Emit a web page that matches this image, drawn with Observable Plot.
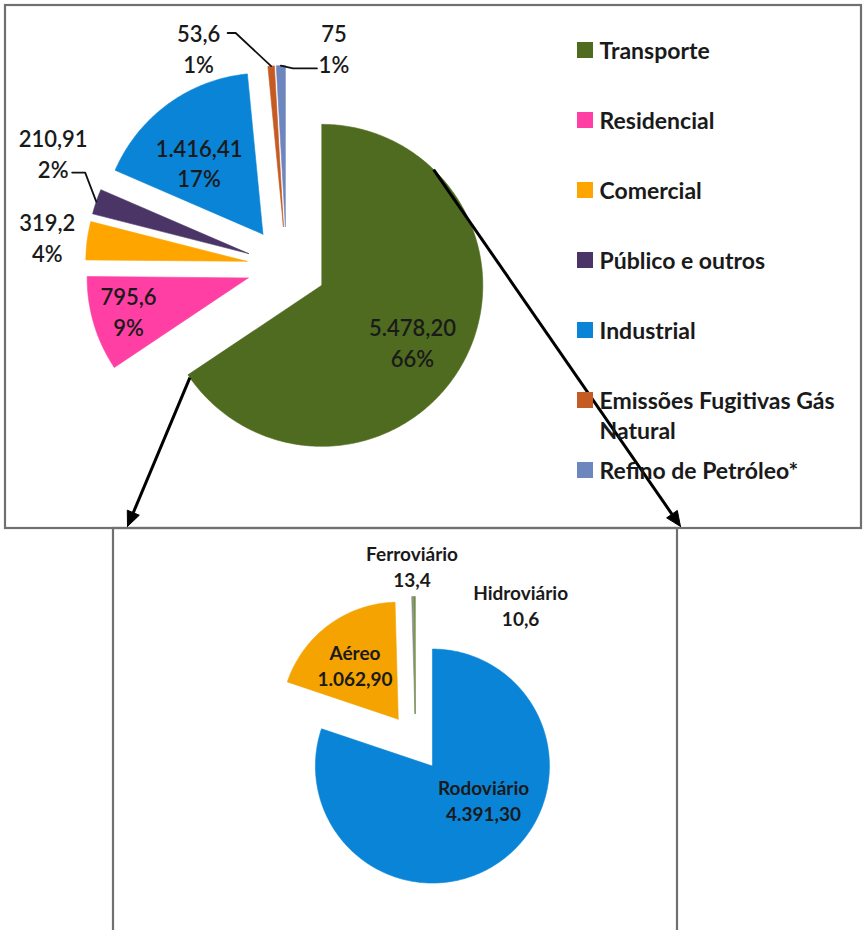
<!DOCTYPE html>
<html>
<head>
<meta charset="utf-8">
<script src="https://cdn.jsdelivr.net/npm/d3@7"></script>
<script src="https://cdn.jsdelivr.net/npm/@observablehq/plot@0.6"></script>
<style>
  html, body { margin: 0; padding: 0; background: #fff; }
  #chart svg { display: block; }
</style>
</head>
<body>
<div id="chart"></div>
<script>
// ---------------- DATA ----------------
const sectors = ["Transporte", "Residencial", "Comercial", "Público e outros", "Industrial", "Emissões Fugitivas Gás Natural", "Refino de Petróleo*"];
const sectorValues = [5478.20, 795.6, 319.2, 210.91, 1416.41, 53.6, 75];
const sectorValueLabels = ["5.478,20", "795,6", "319,2", "210,91", "1.416,41", "53,6", "75"];
const sectorPercentLabels = ["66%", "9%", "4%", "2%", "17%", "1%", "1%"];
const sectorColors = ["#4f6b1f", "#ff3fa3", "#ffa500", "#4a3566", "#0a84d6", "#c55a22", "#6e86be"];

const modes = ["Rodoviário", "Aéreo", "Ferroviário", "Hidroviário"];
const modeValues = [4391.30, 1062.90, 13.4, 10.6];
const modeValueLabels = ["4.391,30", "1.062,90", "13,4", "10,6"];
const modeColors = ["#0a84d6", "#f5a300", "#8a8a8a", "#6b8e3a"];

// ---------------- LAYOUT / STYLE ----------------
const W = 864, H = 930;
const layout = {
  topPie: {cx: 286, cy: 266, r: 161, explode: 40},
  botPie: {cx: 415, cy: 742, r: 117, explode: 29},
  topBox: {x1: 5, y1: 5, x2: 861, y2: 528},
  botBox: {x1: 113, y1: 528, x2: 677, y2: 960},
  legend: {x: 577, y0: 50, step: 70, size: 16, gap: 6, fontSize: 23},
  boxStroke: "#707070",
  textColor: "#1a1a1a"
};
const sectorLabelStyle = [
  {rf: 0.66, dx: -3, dy: 6},
  {rf: 0.75, dx: -4, dy: -2},
  {rf: 1.2, dx: -8, dy: 0},
  {rf: 1.25, dx: -5, dy: -36, leader: {sx: 19, sy: 20, elbow: 13}},
  {rf: 0.6, dx: -7, dy: 6},
  {rf: 1.2, dx: -70, dy: 14, leader: {sx: 29, sy: -15, elbow: 8}},
  {rf: 1.2, dx: 54, dy: 14, leader: {sx: -17, sy: 21, elbow: -24}}
];
const modeLabelStyle = [
  {rf: 0.5, dx: 17, dy: -14},
  {rf: 0.55, dx: -5, dy: -3},
  {rf: 1.25, dx: 0, dy: -2},
  {rf: 1.0, dx: 106, dy: 8}
];
const arrowStyle = [
  {angle: 44, toX: layout.botBox.x2 + 3, toY: layout.botBox.y1 - 2},
  {angle: 235, toX: layout.botBox.x1 + 14, toY: layout.botBox.y1 - 2}
];

// ---------------- GEOMETRY ----------------
function wedgeGeometry(values, g) {
  const arcs = d3.pie().sort(null).value(d => d)(values);
  return arcs.map((a, i) => {
    const mid = (a.startAngle + a.endAngle) / 2;
    const ox = g.cx + g.explode * Math.sin(mid);
    const oy = g.cy - g.explode * Math.cos(mid);
    const n = Math.max(2, Math.ceil((a.endAngle - a.startAngle) / 0.01));
    const pts = [[ox, oy]];
    for (let k = 0; k <= n; k++) {
      const t = a.startAngle + (a.endAngle - a.startAngle) * k / n;
      pts.push([ox + g.r * Math.sin(t), oy - g.r * Math.cos(t)]);
    }
    pts.push([ox, oy]);
    return {i, mid, ox, oy, r: g.r, pts};
  });
}
const at = (w, rf, ang = w.mid) => [w.ox + rf * w.r * Math.sin(ang), w.oy - rf * w.r * Math.cos(ang)];

const topW = wedgeGeometry(sectorValues, layout.topPie);
const botW = wedgeGeometry(modeValues, layout.botPie);

const marks = [];

// boxes
marks.push(Plot.rect([layout.topBox, layout.botBox], {
  x1: "x1", y1: "y1", x2: "x2", y2: "y2", fill: "none", stroke: layout.boxStroke, strokeWidth: 2.2
}));

// wedges
topW.forEach((w, i) => marks.push(Plot.line(w.pts, {
  x: p => p[0], y: p => p[1], fill: sectorColors[i], stroke: sectorColors[i], strokeWidth: 0.6, curve: "linear"
})));
botW.forEach((w, i) => marks.push(Plot.line(w.pts, {
  x: p => p[0], y: p => p[1], fill: modeColors[i], stroke: modeColors[i], strokeWidth: 0.6, curve: "linear"
})));

// top pie labels
const topLabels = topW.map((w, i) => {
  const s = sectorLabelStyle[i];
  const [bx, by] = at(w, s.rf);
  return {x: bx + s.dx, y: by + s.dy, text: sectorValueLabels[i] + "\n" + sectorPercentLabels[i], w, s};
});
marks.push(Plot.text(topLabels, {
  x: "x", y: "y", text: "text", fontSize: 22, lineHeight: 1.4, fill: layout.textColor, fontWeight: 600
}));

// leader lines
topLabels.filter(d => d.s.leader).forEach(d => {
  const L = d.s.leader;
  const start = [d.x + L.sx, d.y + L.sy];
  const elbow = [start[0] + L.elbow, start[1]];
  const end = at(d.w, 1);
  marks.push(Plot.line([start, elbow, end], {x: p => p[0], y: p => p[1], stroke: "#111", strokeWidth: 1.8}));
});

// bottom pie labels
const botLabels = botW.map((w, i) => {
  const s = modeLabelStyle[i];
  const [bx, by] = at(w, s.rf);
  return {x: bx + s.dx, y: by + s.dy, text: modes[i] + "\n" + modeValueLabels[i]};
});
marks.push(Plot.text(botLabels, {
  x: "x", y: "y", text: "text", fontSize: 19, lineHeight: 1.4, fill: layout.textColor, fontWeight: "bold"
}));

// arrows from Transporte to the detail pie
const tw = topW[0];
arrowStyle.forEach(a => {
  const [x1, y1] = at(tw, 1, a.angle * Math.PI / 180);
  const x2 = a.toX, y2 = a.toY;
  const len = Math.hypot(x2 - x1, y2 - y1);
  const ux = (x2 - x1) / len, uy = (y2 - y1) / len;
  const hl = 15, hw = 6.5;
  const bx = x2 - ux * hl, by = y2 - uy * hl;
  marks.push(Plot.link([{x1, y1, x2: bx + ux * 2, y2: by + uy * 2}], {x1: "x1", y1: "y1", x2: "x2", y2: "y2", stroke: "#000", strokeWidth: 3}));
  marks.push(Plot.line([[x2, y2], [bx - uy * hw, by + ux * hw], [bx + uy * hw, by - ux * hw], [x2, y2]], {
    x: p => p[0], y: p => p[1], fill: "#000", stroke: "#000", strokeWidth: 1
  }));
});

// legend
const lg = layout.legend;
const legendItems = sectors.map((name, i) => ({
  name: name.replace("Gás Natural", "Gás\nNatural"),
  color: sectorColors[i],
  cy: lg.y0 + i * lg.step
}));
marks.push(Plot.rect(legendItems, {
  x1: lg.x, x2: lg.x + lg.size, y1: d => d.cy - lg.size / 2, y2: d => d.cy + lg.size / 2, fill: "color"
}));
marks.push(Plot.text(legendItems, {
  x: lg.x + lg.size + lg.gap, y: d => d.cy - lg.fontSize * 0.58, text: "name", textAnchor: "start",
  lineAnchor: "top", lineHeight: 1.32, fontSize: lg.fontSize, fontWeight: "bold", fill: layout.textColor
}));

const chart = Plot.plot({
  width: W, height: H, margin: 0,
  x: {domain: [0, W], range: [0, W], axis: null},
  y: {domain: [0, H], range: [0, H], axis: null},
  color: {type: "identity"},
  style: {fontFamily: "Lato, 'Open Sans', sans-serif", background: "#fff", overflow: "hidden"},
  marks
});
document.getElementById("chart").append(chart);
</script>
</body>
</html>
